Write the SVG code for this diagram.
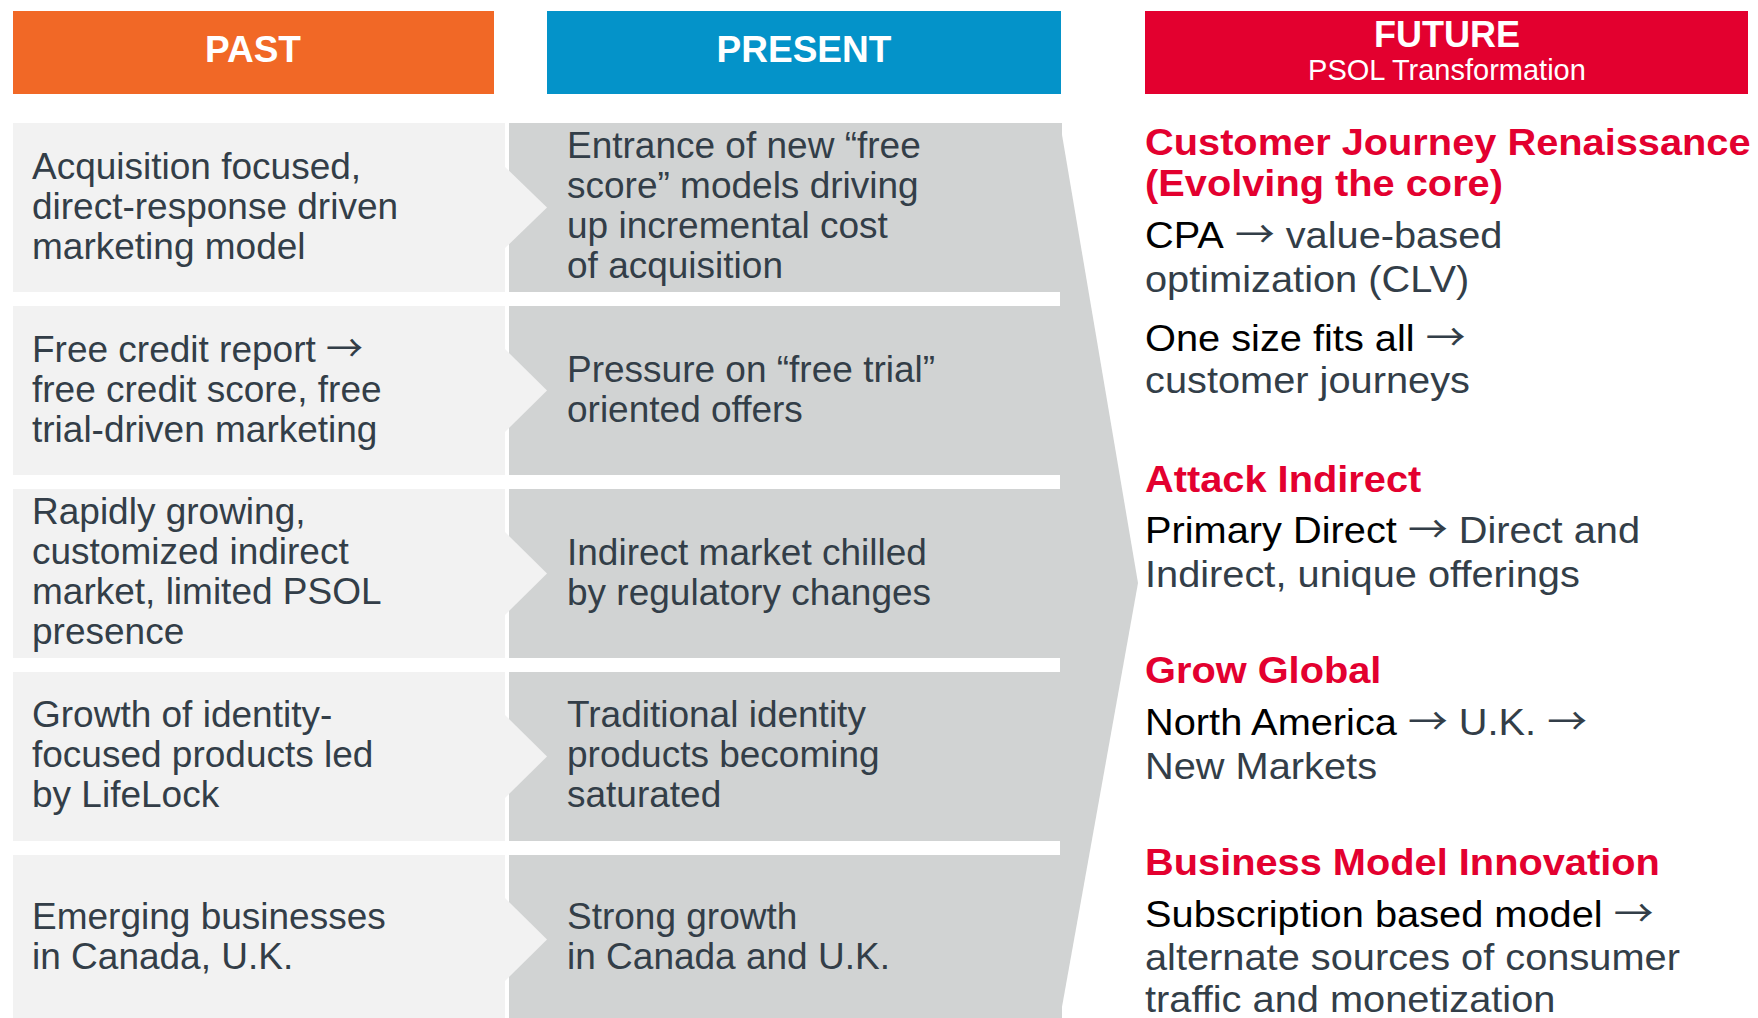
<svg xmlns="http://www.w3.org/2000/svg" width="1758" height="1018" viewBox="0 0 1758 1018">
<style>
text { font-family: "Liberation Sans", Arial, Helvetica, sans-serif; }
.hd { font-size: 37px; font-weight: bold; fill: #ffffff; text-anchor: middle; }
.body { font-size: 37px; fill: #333e48; }
.red { font-size: 37px; font-weight: bold; fill: #e3002f; }
.blk { fill: #000000; }
.arr { font-family: "Noto Sans CJK SC", "DejaVu Sans", sans-serif; fill: #333e48; }
.light { fill: #f2f2f2; }
.gray { fill: #d1d3d3; }
</style>
<rect width="1758" height="1018" fill="#ffffff"/>

<g id="header-past">
  <rect x="13" y="11" width="481" height="83" fill="#f16826"/>
  <text class="hd" x="253" y="62">PAST</text>
</g>
<g id="header-present">
  <rect x="547" y="11" width="514" height="83" fill="#0493c9"/>
  <text class="hd" x="804" y="62">PRESENT</text>
</g>
<g id="header-future">
  <rect x="1145" y="11" width="603" height="83" fill="#e3002f"/>
  <text class="hd" x="1447" y="46.5" style="font-size:36px">FUTURE</text>
  <text x="1447" y="80" style="font-size:29px; fill:#ffffff; text-anchor:middle">PSOL Transformation</text>
</g>

<g id="present-band">
  <polygon class="gray" points="1060,123 1138,583 1060,1018"/>
</g>

<g id="past-1">
  <rect class="light" x="13" y="123" width="492" height="169"/>
  <text class="body" x="32" y="179">Acquisition focused,</text>
  <text class="body" x="32" y="219">direct-response driven</text>
  <text class="body" x="32" y="259">marketing model</text>
</g>
<g id="present-1">
  <rect class="gray" x="509" y="123" width="553" height="169"/>
  <text class="body" x="567" y="158">Entrance of new “free</text>
  <text class="body" x="567" y="198">score” models driving</text>
  <text class="body" x="567" y="238">up incremental cost</text>
  <text class="body" x="567" y="278">of acquisition</text>
</g>

<g id="past-2">
  <rect class="light" x="13" y="306" width="492" height="169"/>
  <text class="body" x="32" y="362">Free credit report <tspan class="arr">→</tspan></text>
  <text class="body" x="32" y="402">free credit score, free</text>
  <text class="body" x="32" y="442">trial-driven marketing</text>
</g>
<g id="present-2">
  <rect class="gray" x="509" y="306" width="553" height="169"/>
  <text class="body" x="567" y="382">Pressure on “free trial”</text>
  <text class="body" x="567" y="422">oriented offers</text>
</g>

<g id="past-3">
  <rect class="light" x="13" y="489" width="492" height="169"/>
  <text class="body" x="32" y="524">Rapidly growing,</text>
  <text class="body" x="32" y="564">customized indirect</text>
  <text class="body" x="32" y="604">market, limited PSOL</text>
  <text class="body" x="32" y="644">presence</text>
</g>
<g id="present-3">
  <rect class="gray" x="509" y="489" width="553" height="169"/>
  <text class="body" x="567" y="565">Indirect market chilled</text>
  <text class="body" x="567" y="605">by regulatory changes</text>
</g>

<g id="past-4">
  <rect class="light" x="13" y="672" width="492" height="169"/>
  <text class="body" x="32" y="727">Growth of identity-</text>
  <text class="body" x="32" y="767">focused products led</text>
  <text class="body" x="32" y="807">by LifeLock</text>
</g>
<g id="present-4">
  <rect class="gray" x="509" y="672" width="553" height="169"/>
  <text class="body" x="567" y="727">Traditional identity</text>
  <text class="body" x="567" y="767">products becoming</text>
  <text class="body" x="567" y="807">saturated</text>
</g>

<g id="past-5">
  <rect class="light" x="13" y="855" width="492" height="163"/>
  <text class="body" x="32" y="929">Emerging businesses</text>
  <text class="body" x="32" y="969">in Canada, U.K.</text>
</g>
<g id="present-5">
  <rect class="gray" x="509" y="855" width="553" height="163"/>
  <text class="body" x="567" y="929">Strong growth</text>
  <text class="body" x="567" y="969">in Canada and U.K.</text>
</g>

<g id="connectors">
  <polygon class="light" points="504,166 547,207.5 504,249"/>
  <polygon class="light" points="504,348 547,390.5 504,433"/>
  <polygon class="light" points="504,531 547,573.5 504,616"/>
  <polygon class="light" points="504,714 547,756.5 504,799"/>
  <polygon class="light" points="504,897 547,939.5 504,982"/>
</g>

<g transform="translate(1145 0) scale(1.075 1)">
  <g id="future-1">
    <text class="red" x="0" y="155">Customer Journey Renaissance</text>
    <text class="red" x="0" y="196">(Evolving the core)</text>
    <text class="body" x="0" y="248"><tspan class="blk">CPA</tspan> <tspan class="arr">→</tspan> value-based</text>
    <text class="body" x="0" y="292">optimization (CLV)</text>
    <text class="body" x="0" y="351"><tspan class="blk">One size fits all</tspan> <tspan class="arr">→</tspan></text>
    <text class="body" x="0" y="393">customer journeys</text>
  </g>
  <g id="future-2">
    <text class="red" x="0" y="492">Attack Indirect</text>
    <text class="body" x="0" y="543"><tspan class="blk">Primary Direct</tspan> <tspan class="arr">→</tspan> Direct and</text>
    <text class="body" x="0" y="587">Indirect, unique offerings</text>
  </g>
  <g id="future-3">
    <text class="red" x="0" y="683">Grow Global</text>
    <text class="body" x="0" y="735"><tspan class="blk">North America</tspan> <tspan class="arr">→</tspan> U.K. <tspan class="arr">→</tspan></text>
    <text class="body" x="0" y="779">New Markets</text>
  </g>
  <g id="future-4">
    <text class="red" x="0" y="875">Business Model Innovation</text>
    <text class="body" x="0" y="927"><tspan class="blk">Subscription based model</tspan> <tspan class="arr">→</tspan></text>
    <text class="body" x="0" y="970">alternate sources of consumer</text>
    <text class="body" x="0" y="1012">traffic and monetization</text>
  </g>
</g>
</svg>
